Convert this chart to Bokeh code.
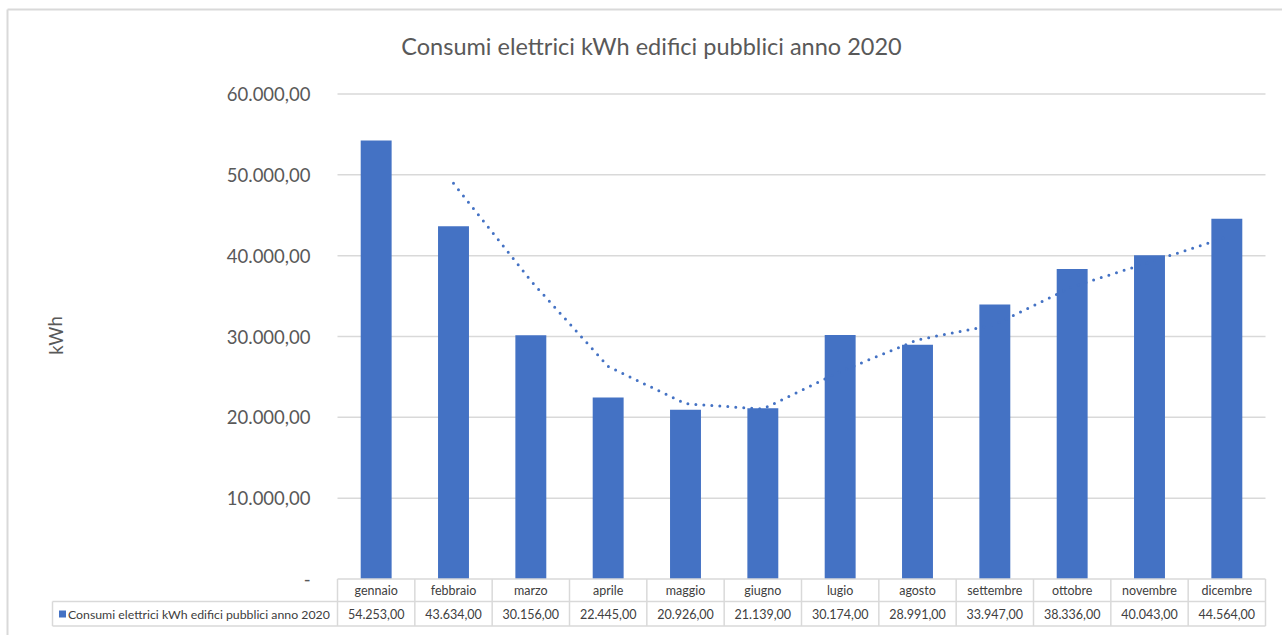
from bokeh.plotting import figure
from bokeh.models import Range1d, LinearAxis, FixedTicker, ColumnDataSource
from bokeh.core.properties import value
from bokeh.embed import file_html
from bokeh.resources import INLINE

# --- data -------------------------------------------------------------
title_text = "Consumi elettrici kWh edifici pubblici anno 2020"
series_name = "Consumi elettrici kWh edifici pubblici anno 2020"
months = ["gennaio", "febbraio", "marzo", "aprile", "maggio", "giugno",
          "lugio", "agosto", "settembre", "ottobre", "novembre", "dicembre"]
consumi = [54253, 43634, 30156, 22445, 20926, 21139,
           30174, 28991, 33947, 38336, 40043, 44564]
# dotted trend (2-period moving average), from febbraio on
trend_months = months[1:]
trend_values = [48944, 36895, 26301, 21686, 21033, 25657,
                29583, 31469, 36142, 39190, 42304]
y_ticks = [0, 10000, 20000, 30000, 40000, 50000, 60000]
y_label = "kWh"


def it_fmt(v):
    if v == 0:
        return "-"
    s = f"{v:,.2f}"
    return s.replace(",", "X").replace(".", ",").replace("X", ".")


# --- geometry ---------------------------------------------------------
W, H = 1282, 635
left_px, right_px = 337.0, 1265.0          # category area
col_px = (right_px - left_px) / len(months)
zero_px, top_px = 578.5, 93.5               # y of 0 and of 60.000
ppu = (zero_px - top_px) / 60000.0          # pixels per kWh

x0 = -left_px / col_px
x1 = (W - left_px) / col_px
ymin = -(H - zero_px) / ppu
ymax = zero_px / ppu

GRID = "#D9D9D9"
BAR = "#4472C4"
TXT = "#595959"
FONT = "Lato"

p = figure(width=W, height=H, output_backend="svg", toolbar_location=None,
           x_range=Range1d(x0, x1), y_range=Range1d(ymin, ymax),
           x_axis_location=None, y_axis_location=None,
           min_border=0, min_border_left=0, min_border_right=0,
           min_border_top=0, min_border_bottom=0)
p.outline_line_color = None
p.grid.visible = False
p.background_fill_color = "white"
p.border_fill_color = "white"

# pixel-space ranges for frame decorations
p.extra_x_ranges = {"px": Range1d(0, W)}
p.extra_y_ranges = {"px": Range1d(H, 0)}

xc = [i + 0.5 for i in range(len(months))]

# horizontal gridlines over the category area
gl = [t for t in y_ticks if t > 0]
p.segment(x0=[0] * len(gl), x1=[len(months)] * len(gl), y0=gl, y1=gl,
          line_color=GRID, line_width=1.5)

# bars
src = ColumnDataSource(dict(x=xc, top=consumi, month=months))
p.vbar(x="x", top="top", bottom=0, width=0.40, source=src,
       fill_color=BAR, line_color=None)

# dotted trend line
tx = [months.index(m) + 0.5 for m in trend_months]
p.line(tx, trend_values, line_color=BAR, line_width=3,
       line_dash="0 8", line_cap="round")

# y axis with Italian number formatting
yax = LinearAxis(ticker=FixedTicker(ticks=y_ticks),
                 major_label_overrides={t: it_fmt(t) for t in y_ticks},
                 axis_line_color=None, major_tick_line_color=None,
                 minor_tick_line_color=None, major_tick_out=0, major_tick_in=0,
                 major_label_standoff=0,
                 major_label_text_font=FONT, major_label_text_font_size="18.5px",
                 major_label_text_color=TXT)
yax.fixed_location = (310 - left_px) / col_px
p.add_layout(yax, "left")

# title and axis label
p.text(x=[651], y=[45], text=[title_text], x_range_name="px", y_range_name="px",
       text_font=value(FONT), text_font_size="23.5px", text_color=TXT,
       text_align="center", text_baseline="middle")
p.text(x=[55], y=[335], text=[y_label], x_range_name="px", y_range_name="px",
       angle=1.5708, text_font=value(FONT), text_font_size="18.5px",
       text_color=TXT, text_align="center", text_baseline="middle")

# chart border
p.segment(x0=[7, 7], y0=[9, 9], x1=[7, W + 5], y1=[H + 5, 9],
          x_range_name="px", y_range_name="px", line_color=GRID, line_width=2)

# data table below the chart
row_top, row_mid, row_bot = zero_px, 601.0, 625.5
leg_left = 52.0
leg_left_x = (leg_left - left_px) / col_px
n = len(months)
# horizontal rules
p.segment(x0=[0, leg_left_x, leg_left_x], x1=[n, n, n],
          y0=[row_top, row_mid, row_bot], y1=[row_top, row_mid, row_bot],
          y_range_name="px", line_color=GRID, line_width=1.5)
# vertical rules
vx = list(range(n + 1))
p.segment(x0=vx, x1=vx, y0=[row_top] * len(vx), y1=[row_bot] * len(vx),
          y_range_name="px", line_color=GRID, line_width=1.5)
p.segment(x0=[leg_left_x], x1=[leg_left_x], y0=[row_mid], y1=[row_bot],
          y_range_name="px", line_color=GRID, line_width=1.5)

TBL = "#404040"
p.text(x=xc, y=[589.5] * n, text=months, y_range_name="px",
       text_font=value(FONT), text_font_size="12.5px", text_color=TBL,
       text_align="center", text_baseline="middle")
p.text(x=xc, y=[613.5] * n, text=[it_fmt(v) for v in consumi], y_range_name="px",
       text_font=value(FONT), text_font_size="12.5px", text_color=TBL,
       text_align="center", text_baseline="middle")
# legend key and series name
p.rect(x=[62], y=[613.5], width=7, height=7, x_range_name="px", y_range_name="px",
       fill_color=BAR, line_color=None)
p.text(x=[67.5], y=[613.5], text=[series_name], x_range_name="px", y_range_name="px",
       text_font=value(FONT), text_font_size="12.3px", text_color=TBL,
       text_align="left", text_baseline="middle")

open("out.html", "w").write(file_html(p, INLINE))
